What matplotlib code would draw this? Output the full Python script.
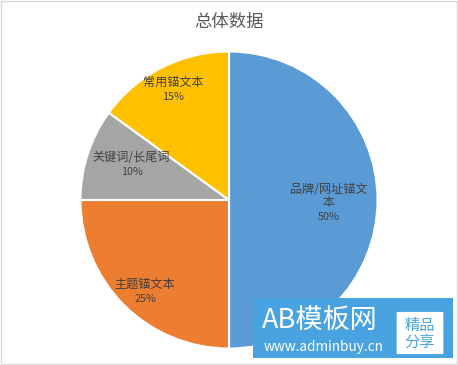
import numpy as np
import matplotlib.pyplot as plt
from matplotlib.patches import Rectangle, FancyBboxPatch

plt.rcParams['font.family'] = ['Noto Sans CJK SC', 'DejaVu Sans']

labels = ['品牌/网址锚文\n本', '主题锚文本', '关键词/长尾词', '常用锚文本']
values = [50, 25, 10, 15]
colors = ['#5B9BD5', '#ED7D31', '#A5A5A5', '#FFC000']

# label placement inside each slice (fraction of radius, extra vertical shift)
label_dist = [0.67, 0.8, 0.69, 0.83]
label_dy = [-0.1, -0.087, -0.013, -0.03]

fig = plt.figure(figsize=(4.58, 3.65), dpi=100)
fig.patches.append(Rectangle((0.002, 0.003), 0.996, 0.994, transform=fig.transFigure,
                             fill=False, edgecolor='#D9D9D9', linewidth=1))

ax = fig.add_axes([79 / 458, 15 / 365, 300 / 458, 300 / 365])
wedges, _ = ax.pie(values, colors=colors, startangle=90, counterclock=False,
                   wedgeprops=dict(edgecolor='white', linewidth=1.5))
ax.set_xlim(-1.01, 1.01)
ax.set_ylim(-1.01, 1.01)
ax.set_aspect('equal')
ax.axis('off')

for w, lab, v, d, dy in zip(wedges, labels, values, label_dist, label_dy):
    ang = np.deg2rad((w.theta1 + w.theta2) / 2)
    x, y = d * np.cos(ang), d * np.sin(ang) + dy
    ax.text(x, y + 0.04, lab, ha='center', va='bottom', fontsize=8.7,
            color='#404040', linespacing=1.0)
    ax.text(x, y + 0.02, f'{v}%', ha='center', va='top', fontsize=7.8,
            color='#404040')

fig.text(229 / 458, 1 - 22 / 365, '总体数据', ha='center', va='center',
         fontsize=12.5, color='#595959')

# watermark
fig.patches.append(Rectangle((253 / 458, 7 / 365), 200 / 458, 60 / 365,
                             transform=fig.transFigure, facecolor='#48A3E0',
                             edgecolor='none'))
fig.patches.append(FancyBboxPatch((398 / 458, 12 / 365), 44 / 458, 40 / 365,
                                  boxstyle='round,pad=0.003',
                                  transform=fig.transFigure, facecolor='white',
                                  edgecolor='none'))
fig.text(262 / 458, 1 - 320 / 365, 'AB模板网', ha='left', va='center',
         fontsize=19.5, color='white')
fig.text(264 / 458, 1 - 347 / 365, 'www.adminbuy.cn', ha='left', va='center',
         fontsize=9.8, color='white')
fig.text(420 / 458, 1 - 334 / 365, '精品\n分享', ha='center', va='center',
         fontsize=11, color='#48A3E0', linespacing=1.0)

fig.savefig('out.png', dpi=100)
